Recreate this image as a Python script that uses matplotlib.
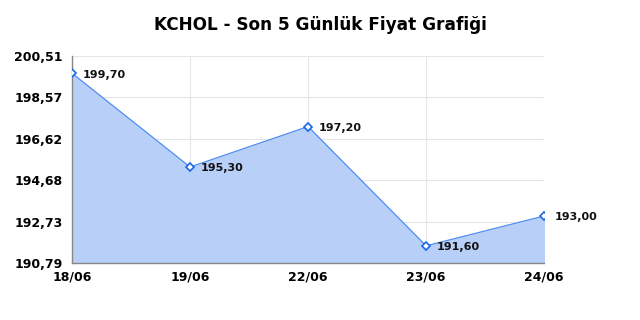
import numpy as np
import matplotlib.pyplot as plt

dates = ['18/06', '19/06', '22/06', '23/06', '24/06']
prices = [199.70, 195.30, 197.20, 191.60, 193.00]
y_ticks = [190.79, 192.73, 194.68, 196.62, 198.57, 200.51]

fig = plt.figure(figsize=(6.4, 3.2), dpi=100)
ax = fig.add_axes([0.1125, 0.178, 0.7375, 0.647])

x = np.arange(len(dates))
ax.fill_between(x, prices, y_ticks[0], color='#b8d0f8', zorder=1)
ax.plot(x, prices, color='#4a8af0', lw=0.8, zorder=2)
ax.plot(x, prices, ls='none', marker='D', ms=4.5, mfc='white', mec='#1a66e8', mew=1.2, zorder=3)

for xi, p in zip(x, prices):
    ax.annotate(f'{p:.2f}'.replace('.', ','), (xi, p), xytext=(7.5, -1), textcoords='offset points',
                va='center', ha='left', fontsize=8, fontweight='bold', color='#111111')

ax.set_xlim(0, len(dates) - 1)
ax.set_ylim(y_ticks[0], y_ticks[-1])
ax.set_xticks(x)
ax.set_xticklabels(dates, fontsize=9, fontweight='bold')
ax.set_yticks(y_ticks)
ax.set_yticklabels([f'{v:.2f}'.replace('.', ',') for v in y_ticks], fontsize=9, fontweight='bold')
ax.tick_params(axis='y', length=0, pad=6.5)
ax.tick_params(axis='x', length=0, pad=5.5)
ax.grid(color='#e6e6e6', lw=0.8, zorder=0)
ax.set_axisbelow(True)
for s in ['top', 'right']:
    ax.spines[s].set_visible(False)
for s in ['left', 'bottom']:
    ax.spines[s].set_color('#888888')
    ax.spines[s].set_linewidth(1)

fig.suptitle('KCHOL - Son 5 Günlük Fiyat Grafiği', fontsize=12.2, fontweight='bold', y=0.95)
fig.savefig('out.png')
